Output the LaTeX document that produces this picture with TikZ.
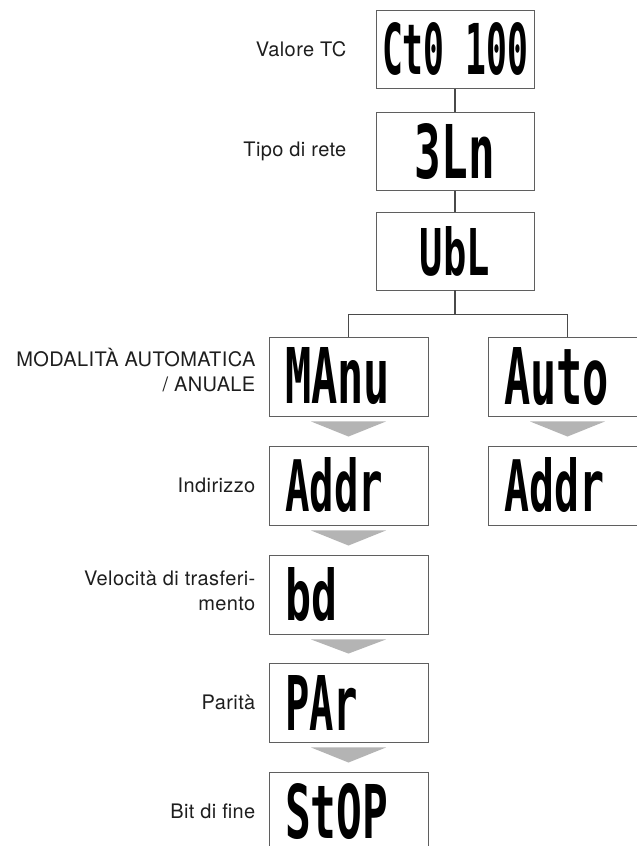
\documentclass[tikz,border=0pt]{standalone}
\usepackage{fontspec}
\setmainfont{TeX Gyre Heros}[LetterSpace=2]
\newfontfamily\lcdfont{DejaVu Sans Mono}
\usetikzlibrary{calc}
\definecolor{ink}{HTML}{1E1E1E}
\definecolor{frame}{HTML}{5F5F5F}
\definecolor{wiregray}{HTML}{4A4A4A}
\definecolor{pointergray}{HTML}{B4B4B4}
\newcommand{\lcd}[3]{\resizebox{#1pt}{#2pt}{\lcdfont\bfseries #3}}
\tikzset{
  display/.style={draw=frame,fill=white,line width=0.9pt,
                  minimum width=158pt,minimum height=78pt,
                  inner sep=0pt,align=center},
  sidedisplay/.style={display,minimum width=159pt,minimum height=79pt,
                      text width=127pt,inner xsep=16pt,align=left},
  caption/.style={text=ink,font=\fontsize{20}{25.5}\selectfont,
                  align=right,inner sep=0pt},
  wire/.style={draw=wiregray,line width=1.1pt},
  pointer/.style={fill=pointergray}
}

\begin{document}
\begin{tikzpicture}[x=1pt,y=1pt]
  \useasboundingbox (0,0) rectangle (637,846);
  % top chain
  \node[display] (ct)  at (455,796.5) {\lcd{146}{52}{Ct0 100}};
  \node[display] (net) at (455,694.5) {\lcd{80}{55}{3Ln}};
  \node[display] (ubl) at (455,595)   {\lcd{70}{49}{UbL}};
  % left column
  \node[sidedisplay] (manu)  at (348.5,469.5) {\lcd{105}{56}{MAnu}};
  \node[sidedisplay] (laddr) at (348.5,360.5) {\lcd{98}{54}{Addr}};
  \node[sidedisplay] (bd)    at (348.5,251.5) {\lcd{52}{53}{bd}};
  \node[sidedisplay] (par)   at (348.5,143.5) {\lcd{73}{55}{PAr}};
  \node[sidedisplay] (stop)  at (348.5,34.5)  {\lcd{103}{55}{StOP}};
  % right column
  \node[sidedisplay] (auto)  at (567.5,469.5) {\lcd{105}{57}{Auto}};
  \node[sidedisplay] (raddr) at (567.5,360.5) {\lcd{100}{54}{Addr}};
  \draw[wire] (ct) -- (net);
  \draw[wire] (net) -- (ubl);
  \draw[wire] (ubl.south) -- ++(0,-24) coordinate (fork);
  \draw[wire] (manu.north) |- (fork) -| (auto.north);
  \foreach \a/\b in {manu/laddr,laddr/bd,bd/par,par/stop,auto/raddr}
    \fill[pointer] ($(\a.south)+(-37.5,-5)$) -- ($(\a.south)+(37.5,-5)$)
      -- ($(\b.north)+(0,9)$) -- cycle;
  % captions
  \node[caption,anchor=base east] (lbct)  at ($(ct.west)+(-29,-7.5)$)  {Valore TC};
  \node[caption,anchor=base east] (lbnet) at ($(net.west)+(-29,-5.5)$) {Tipo di rete};
  \node[caption,anchor=base east] (lbmode) at ($(manu.west)+(-13,-15.5)$)
    {MODALITÀ AUTOMATICA\\/ ANUALE};
  \node[caption,anchor=base east] (lbaddr) at ($(laddr.west)+(-13,-7)$) {Indirizzo};
  \node[caption,anchor=base east] (lbbd)   at ($(bd.west)+(-13,-16.5)$)
    {Velocità di trasferi-\\mento};
  \node[caption,anchor=base east] (lbpar)  at ($(par.west)+(-13,-7)$)  {Parità};
  \node[caption,anchor=base east] (lbstop) at ($(stop.west)+(-13,-7)$) {Bit di fine};
\end{tikzpicture}
\end{document}
